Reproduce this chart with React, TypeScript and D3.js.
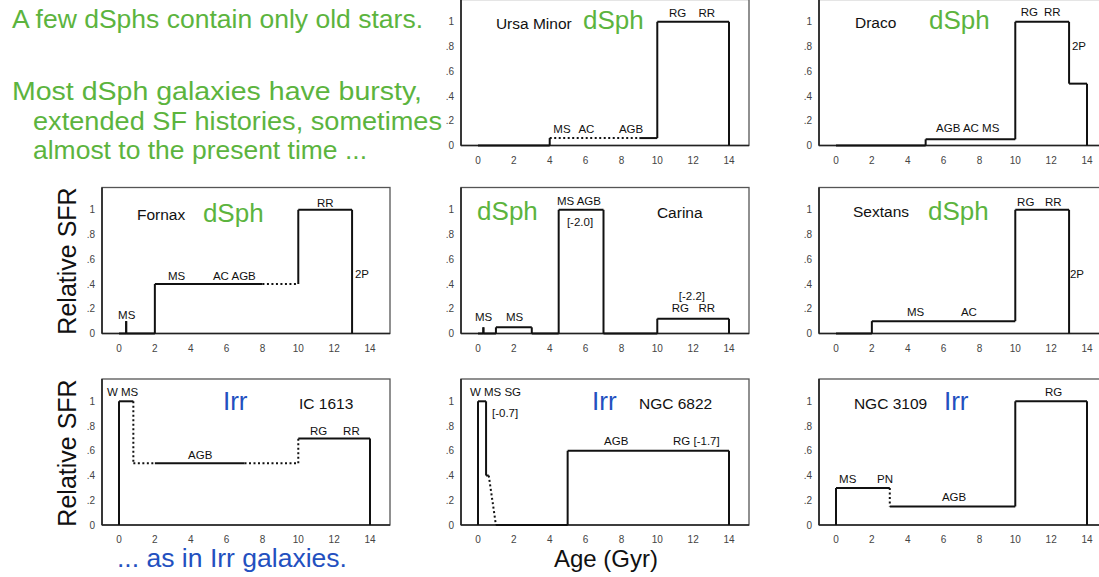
import React from "react";
import * as d3 from "d3";

// ---- shared axis ticks ----
const ageTicks = [0, 2, 4, 6, 8, 10, 12, 14];
const sfrTicks = [0, 0.2, 0.4, 0.6, 0.8, 1];
const sfrTickLabels = ["0", ".2", ".4", ".6", ".8", "1"];

// ---- star formation histories (age in Gyr, relative SFR) ----
const ursaMinorAge = [0, 4, 4, 9, 10, 10, 14, 14];
const ursaMinorSfr = [0, 0, 0.06, 0.06, 0.06, 1, 1, 0];
const ursaMinorDotted = [2];

const dracoAge = [0, 5, 5, 10, 10, 13, 13, 14, 14];
const dracoSfr = [0, 0, 0.05, 0.05, 1, 1, 0.5, 0.5, 0];
const dracoDotted: number[] = [];

const fornaxAge = [0, 0.4, 0.4, 0.4, 2, 2, 8, 10, 10, 13, 13];
const fornaxSfr = [0, 0, 0.1, 0, 0, 0.4, 0.4, 0.4, 1, 1, 0];
const fornaxDotted = [6];

const carinaAge = [0, 0.3, 0.3, 0.3, 1, 1, 3, 3, 4.5, 4.5, 7, 7, 10, 10, 14, 14];
const carinaSfr = [0, 0, 0.05, 0, 0, 0.05, 0.05, 0, 0, 1, 1, 0, 0, 0.12, 0.12, 0];
const carinaDotted: number[] = [];

const sextansAge = [0, 2, 2, 10, 10, 13, 13];
const sextansSfr = [0, 0, 0.1, 0.1, 1, 1, 0];
const sextansDotted: number[] = [];

const ic1613Age = [0, 0, 0.8, 0.8, 2, 7, 10, 10, 14, 14];
const ic1613Sfr = [0, 1, 1, 0.5, 0.5, 0.5, 0.5, 0.7, 0.7, 0];
const ic1613Dotted = [2, 3, 5, 6];

const ngc6822Age = [0, 0, 0.45, 0.45, 0.6, 1, 5, 5, 14, 14];
const ngc6822Sfr = [0, 1, 1, 0.4, 0.4, 0, 0, 0.6, 0.6, 0];
const ngc6822Dotted = [4];

const ngc3109Age = [0, 0, 3, 3, 10, 10, 14, 14];
const ngc3109Sfr = [0, 0.3, 0.3, 0.15, 0.15, 1, 1, 0];
const ngc3109Dotted = [2];

// ---- annotations: [text, age, sfr] ----
type Note = [string, number, number];
const ursaMinorNotes: Note[] = [["MS", 4.2, 0.105], ["AC", 5.6, 0.105], ["AGB", 7.86, 0.105], ["RG", 10.65, 1.04], ["RR", 12.3, 1.04]];
const dracoNotes: Note[] = [["AGB AC MS", 5.58, 0.11], ["RG", 10.3, 1.05], ["RR", 11.6, 1.05], ["2P", 13.16, 0.77]];
const fornaxNotes: Note[] = [["MS", -0.05, 0.12], ["MS", 2.73, 0.43], ["AC AGB", 5.24, 0.43], ["RR", 11.04, 1.02], ["2P", 13.16, 0.45]];
const carinaNotes: Note[] = [["MS", -0.17, 0.105], ["MS", 1.56, 0.105], ["MS AGB", 4.4, 1.04], ["[-2.0]", 4.96, 0.87], ["[-2.2]", 11.2, 0.27], ["RG", 10.8, 0.17], ["RR", 12.3, 0.17]];
const sextansNotes: Note[] = [["MS", 3.96, 0.145], ["AC", 6.97, 0.145], ["RG", 10.1, 1.03], ["RR", 11.66, 1.03], ["2P", 13.05, 0.45]];
const ic1613Notes: Note[] = [["W MS", -0.67, 1.04], ["AGB", 3.85, 0.53], ["RG", 10.65, 0.73], ["RR", 12.5, 0.73]];
const ngc6822Notes: Note[] = [["W MS SG", -0.45, 1.04], ["[-0.7]", 0.78, 0.87], ["AGB", 7.03, 0.65], ["RG [-1.7]", 10.88, 0.65]];
const ngc3109Notes: Note[] = [["MS", 0.17, 0.34], ["PN", 2.29, 0.34], ["AGB", 5.91, 0.19], ["RG", 11.66, 1.04]];

const GREEN = "#5cb43e";
const BLUE = "#2350c0";
const FONT = "'Liberation Sans', Arial, Helvetica, sans-serif";

type PanelProps = {
  col: number;
  row: number;
  name: string;
  nameAt: [number, number];
  tag: string;
  tagAt: [number, number];
  tagColor: string;
  ages: number[];
  sfrs: number[];
  dotted: number[];
  notes: Note[];
};

const colLeft = [102, 461, 819];
const rowBottom = [145.5, 333.5, 525];
const frameW = 288;
const frameH = 146;

function Panel(p: PanelProps) {
  const left = colLeft[p.col];
  const bottom = rowBottom[p.row];
  const top = bottom - frameH;
  const x = d3.scaleLinear().domain([0, 14]).range([left + 17, left + 268]);
  const y = d3.scaleLinear().domain([0, 1]).range([bottom, bottom - 123.7]);
  const line = d3.line<[number, number]>().x((d) => x(d[0])).y((d) => y(d[1]));
  const segs = [];
  for (let i = 0; i < p.ages.length - 1; i++) {
    const dd = line([
      [p.ages[i], p.sfrs[i]],
      [p.ages[i + 1], p.sfrs[i + 1]],
    ]);
    const isDot = p.dotted.includes(i);
    segs.push(
      <path
        key={i}
        d={dd || ""}
        fill="none"
        stroke="#111"
        strokeWidth={2}
        strokeDasharray={isDot ? "2,2.5" : undefined}
        strokeLinecap="butt"
      />
    );
  }
  return (
    <g>
      <rect x={left} y={top} width={frameW} height={frameH} fill="#fff" stroke="#555" strokeWidth={1.3} />
      <line x1={left} x2={left} y1={top} y2={bottom} stroke="#222" strokeWidth={1.6} />
      <line x1={left} x2={left + frameW} y1={bottom} y2={bottom} stroke="#222" strokeWidth={1.6} />
      {ageTicks.map((t) => (
        <text key={"x" + t} x={x(t)} y={bottom + 18} textAnchor="middle" fontSize={10} fill="#444" fontFamily={FONT}>
          {t}
        </text>
      ))}
      {sfrTicks.map((t, i) => (
        <text key={"y" + t} x={left - 7} y={y(t) + 3.5} textAnchor="end" fontSize={10} fill="#444" fontFamily={FONT}>
          {sfrTickLabels[i]}
        </text>
      ))}
      {segs}
      {p.notes.map((n, i) => (
        <text key={"n" + i} x={x(n[1])} y={y(n[2])} fontSize={11.5} fill="#111" fontFamily={FONT}>
          {n[0]}
        </text>
      ))}
      <text x={x(p.nameAt[0])} y={y(p.nameAt[1])} fontSize={15.5} fill="#111" fontFamily={FONT}>
        {p.name}
      </text>
      <text x={x(p.tagAt[0])} y={y(p.tagAt[1])} fontSize={26} fill={p.tagColor} fontFamily={FONT}>
        {p.tag}
      </text>
    </g>
  );
}

export default function App() {
  return (
    <svg width={1099} height={577} style={{ position: "absolute", left: 0, top: 0, background: "#fff" }}>
      <rect x={0} y={0} width={1099} height={577} fill="#fff" />
      <Panel col={1} row={0} name="Ursa Minor" nameAt={[1.0, 0.94]} tag="dSph" tagAt={[5.86, 0.94]} tagColor={GREEN}
        ages={ursaMinorAge} sfrs={ursaMinorSfr} dotted={ursaMinorDotted} notes={ursaMinorNotes} />
      <Panel col={2} row={0} name="Draco" nameAt={[1.06, 0.95]} tag="dSph" tagAt={[5.19, 0.94]} tagColor={GREEN}
        ages={dracoAge} sfrs={dracoSfr} dotted={dracoDotted} notes={dracoNotes} />
      <Panel col={0} row={1} name="Fornax" nameAt={[1.0, 0.92]} tag="dSph" tagAt={[4.68, 0.9]} tagColor={GREEN}
        ages={fornaxAge} sfrs={fornaxSfr} dotted={fornaxDotted} notes={fornaxNotes} />
      <Panel col={1} row={1} name="Carina" nameAt={[9.98, 0.93]} tag="dSph" tagAt={[-0.05, 0.92]} tagColor={GREEN}
        ages={carinaAge} sfrs={carinaSfr} dotted={carinaDotted} notes={carinaNotes} />
      <Panel col={2} row={1} name="Sextans" nameAt={[0.95, 0.94]} tag="dSph" tagAt={[5.13, 0.92]} tagColor={GREEN}
        ages={sextansAge} sfrs={sextansSfr} dotted={sextansDotted} notes={sextansNotes} />
      <Panel col={0} row={2} name="IC 1613" nameAt={[10.04, 0.94]} tag="Irr" tagAt={[5.8, 0.93]} tagColor={BLUE}
        ages={ic1613Age} sfrs={ic1613Sfr} dotted={ic1613Dotted} notes={ic1613Notes} />
      <Panel col={1} row={2} name="NGC 6822" nameAt={[8.98, 0.94]} tag="Irr" tagAt={[6.36, 0.93]} tagColor={BLUE}
        ages={ngc6822Age} sfrs={ngc6822Sfr} dotted={ngc6822Dotted} notes={ngc6822Notes} />
      <Panel col={2} row={2} name="NGC 3109" nameAt={[1.0, 0.94]} tag="Irr" tagAt={[6.02, 0.93]} tagColor={BLUE}
        ages={ngc3109Age} sfrs={ngc3109Sfr} dotted={ngc3109Dotted} notes={ngc3109Notes} />

      <g fontFamily={FONT} fill={GREEN} fontSize={25.5}>
        <text x={12} y={28} textLength={411} lengthAdjust="spacingAndGlyphs">A few dSphs contain only old stars.</text>
        <text x={12} y={100} textLength={410} lengthAdjust="spacingAndGlyphs">Most dSph galaxies have bursty,</text>
        <text x={33} y={130} textLength={409} lengthAdjust="spacingAndGlyphs">extended SF histories, sometimes</text>
        <text x={33} y={159} textLength={334} lengthAdjust="spacingAndGlyphs">almost to the present time ...</text>
      </g>
      <text transform="translate(76,261) rotate(-90)" textAnchor="middle" fontSize={25} fontFamily={FONT} fill="#111">
        Relative SFR
      </text>
      <text transform="translate(76,453) rotate(-90)" textAnchor="middle" fontSize={25} fontFamily={FONT} fill="#111">
        Relative SFR
      </text>
      <text x={117} y={567} fontSize={25.5} fontFamily={FONT} fill={BLUE} textLength={230} lengthAdjust="spacingAndGlyphs">
        ... as in Irr galaxies.
      </text>
      <text x={606} y={567} textAnchor="middle" fontSize={24} fontFamily={FONT} fill="#111">Age (Gyr)</text>
    </svg>
  );
}
